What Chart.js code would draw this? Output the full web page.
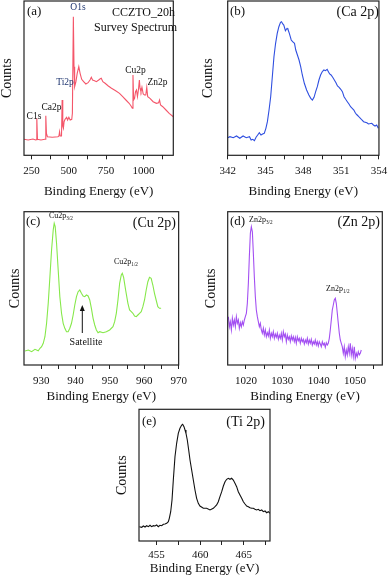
<!DOCTYPE html>
<html>
<head>
<meta charset="utf-8">
<script src="https://cdn.jsdelivr.net/npm/chart.js"></script>
<style>
  html, body { margin: 0; padding: 0; background: #fff; }
  body { position: relative; width: 392px; height: 576px; overflow: hidden; }
  canvas { position: absolute; }
</style>
</head>
<body>
<canvas id="survey" width="198" height="200" style="left:-6px;top:0px"></canvas>
<canvas id="ca" width="196" height="200" style="left:196px;top:0px"></canvas>
<canvas id="cu" width="192" height="206" style="left:0px;top:200px"></canvas>
<canvas id="zn" width="196" height="206" style="left:196px;top:200px"></canvas>
<canvas id="ti" width="185" height="177" style="left:100px;top:400px"></canvas>
<script>
// binding energy (eV) and counts (arbitrary units)
const surveyE = [200, 227.9, 260.1, 277.3, 281.6, 285.8, 290.2, 313.8, 339.5, 343.8,
  346.0, 350.3, 356.7, 388.9, 427.5, 434.0, 438.3, 442.6, 451.2, 455.5,
  459.7, 464.0, 468.4, 474.8, 485.5, 491.9, 500.5, 509.1, 519.9, 524.1,
  530.6, 534.9, 539.2, 547.8, 556.4, 567.0, 575.7, 586.4, 599.3, 614.3,
  629.3, 642.2, 650.8, 659.4, 672.3, 685.1, 700.2, 710.9, 717.3, 728.1,
  743.1, 764.6, 786.0, 813.9, 839.7, 861.2, 882.6, 904.1, 917.0, 925.6,
  929.9, 934.2, 940.6, 947.0, 953.5, 959.9, 966.3, 972.8, 977.1, 983.5,
  990.0, 998.6, 1007.1, 1015.7, 1022.2, 1028.6, 1043.6, 1065.0, 1086.6, 1101.6,
  1108.0, 1114.5, 1129.5, 1151.0, 1172.4, 1200];
const surveyC = [16.0, 15.3, 16.3, 15.3, 15.6, 37.0, 16.0, 15.3, 16.0, 16.0,
  39.6, 22.0, 18.6, 18.0, 18.6, 19.3, 23.6, 19.3, 19.3, 55.3,
  29.3, 27.0, 33.6, 36.0, 38.0, 35.3, 38.0, 35.3, 36.0, 42.0,
  138.6, 88.6, 68.6, 73.6, 82.0, 88.6, 82.0, 76.0, 73.6, 71.3,
  72.6, 75.3, 78.0, 75.3, 74.6, 73.6, 75.3, 76.6, 77.0, 73.6,
  72.0, 69.3, 67.0, 64.6, 62.0, 58.6, 55.3, 52.0, 49.3, 47.0,
  80.3, 55.3, 57.0, 63.6, 65.3, 58.6, 65.3, 75.3, 67.0, 63.6,
  68.0, 61.3, 60.3, 60.3, 68.0, 58.6, 57.0, 53.6, 52.0, 52.6,
  55.3, 50.3, 48.6, 45.3, 41.9, 38.6];

const caE = [342.00, 342.18, 342.44, 342.70, 342.96, 343.22, 343.47, 343.73, 343.86, 343.99,
  344.12, 344.25, 344.38, 344.51, 344.64, 344.77, 344.90, 345.03, 345.15, 345.28,
  345.41, 345.54, 345.67, 345.80, 345.93, 346.06, 346.19, 346.27, 346.37, 346.45,
  346.58, 346.71, 346.78, 346.89, 347.04, 347.15, 347.30, 347.40, 347.53, 347.66,
  347.79, 347.92, 348.08, 348.26, 348.44, 348.59, 348.72, 348.85, 348.98, 349.11,
  349.24, 349.37, 349.50, 349.63, 349.76, 349.89, 349.99, 350.09, 350.20, 350.33,
  350.46, 350.59, 350.71, 350.84, 350.97, 351.10, 351.23, 351.36, 351.49, 351.62,
  351.75, 351.88, 352.01, 352.14, 352.27, 352.40, 352.53, 352.65, 352.78, 353.04,
  353.17, 353.43, 353.56, 353.69, 353.82, 353.95];
const caC = [17.6, 18.6, 17.6, 19.3, 17.0, 19.3, 17.6, 18.6, 15.3, 16.0,
  14.6, 18.0, 20.3, 22.6, 20.3, 21.3, 22.0, 27.0, 33.6, 45.3,
  58.6, 78.6, 98.6, 112.0, 122.0, 128.6, 133.0, 133.6, 131.3, 130.3,
  124.6, 127.0, 126.0, 122.0, 115.3, 113.6, 112.0, 105.3, 100.3, 95.3,
  88.6, 80.3, 72.0, 65.3, 60.3, 57.0, 55.3, 58.0, 63.6, 68.6,
  75.3, 80.3, 83.6, 85.3, 84.6, 86.0, 83.6, 81.3, 80.3, 78.0,
  75.3, 72.6, 69.3, 68.0, 66.0, 63.6, 58.6, 56.0, 53.6, 51.3,
  48.6, 47.0, 45.3, 42.0, 40.3, 38.6, 37.0, 35.3, 33.6, 32.6,
  31.3, 32.0, 30.3, 29.3, 30.3, 27.0];

const cuE = [925.29, 926.26, 927.22, 928.19, 929.15, 929.64, 930.12, 930.60, 931.09, 931.57,
  932.05, 932.54, 933.02, 933.50, 933.79, 934.08, 934.47, 934.95, 935.43, 935.92,
  936.40, 936.88, 937.37, 937.85, 938.33, 938.82, 939.30, 939.78, 940.27, 940.75,
  941.23, 941.71, 942.20, 942.68, 943.16, 943.65, 944.13, 944.61, 945.10, 945.58,
  946.06, 946.55, 947.03, 947.99, 948.96, 949.93, 950.89, 951.38, 951.86, 952.34,
  952.83, 953.31, 953.60, 953.99, 954.57, 955.24, 955.72, 956.21, 956.69, 957.17,
  957.66, 958.14, 958.62, 959.11, 959.59, 960.07, 960.56, 961.04, 961.52, 962.00,
  962.49, 962.97, 963.45, 963.94, 964.42, 964.90];
const cuC = [14.0, 15.0, 13.3, 15.7, 14.3, 16.7, 18.3, 21.7, 28.3, 41.7,
  61.7, 88.3, 115.0, 135.0, 141.7, 138.3, 121.7, 95.0, 68.3, 51.7,
  41.7, 36.7, 33.3, 33.3, 36.7, 41.7, 50.0, 60.0, 68.3, 73.3,
  75.0, 71.7, 69.0, 68.3, 70.0, 69.0, 65.0, 56.7, 46.7, 40.0,
  35.0, 32.3, 33.3, 32.3, 33.3, 35.0, 38.3, 43.3, 51.7, 65.0,
  81.7, 90.0, 91.7, 87.7, 75.0, 61.7, 55.0, 53.3, 51.7, 49.0,
  48.3, 50.0, 51.7, 53.3, 58.3, 65.0, 75.0, 83.3, 87.7, 86.7,
  80.0, 71.7, 65.0, 58.3, 56.7, 56.7];

const znE = [1015.18, 1015.46, 1015.73, 1016.01, 1016.28, 1016.56, 1016.83, 1017.10, 1017.38, 1017.65,
  1017.93, 1018.20, 1018.48, 1018.75, 1019.03, 1019.30, 1019.58, 1019.85, 1020.13, 1020.40,
  1020.68, 1020.95, 1021.23, 1021.50, 1021.78, 1022.05, 1022.32, 1022.60, 1022.87, 1023.15,
  1023.42, 1023.70, 1023.97, 1024.25, 1024.52, 1024.80, 1025.07, 1025.35, 1025.62, 1025.90,
  1026.17, 1026.45, 1026.72, 1027.00, 1027.27, 1027.54, 1027.82, 1028.09, 1028.37, 1028.64,
  1028.92, 1029.19, 1029.47, 1029.74, 1030.02, 1030.29, 1030.57, 1030.84, 1031.12, 1031.39,
  1031.67, 1031.94, 1032.21, 1032.49, 1032.76, 1033.04, 1033.31, 1033.59, 1033.86, 1034.14,
  1034.41, 1034.69, 1034.96, 1035.24, 1035.51, 1035.79, 1036.06, 1036.34, 1036.61, 1036.89,
  1037.16, 1037.43, 1037.71, 1037.98, 1038.26, 1038.53, 1038.81, 1039.08, 1039.36, 1039.63,
  1039.91, 1040.18, 1040.46, 1040.73, 1041.01, 1041.28, 1041.56, 1041.83, 1042.10, 1042.38,
  1042.65, 1042.93, 1043.20, 1043.48, 1043.75, 1044.03, 1044.30, 1044.58, 1044.85, 1045.13,
  1045.40, 1045.68, 1045.95, 1046.23, 1046.50, 1046.78, 1047.05, 1047.32, 1047.60, 1047.87,
  1048.15, 1048.42, 1048.70, 1048.97, 1049.25, 1049.52, 1049.80, 1050.07, 1050.35, 1050.62,
  1050.90, 1051.17, 1051.45, 1051.72];
const znC = [48.3, 38.3, 43.3, 35.0, 46.7, 40.0, 45.0, 38.3, 48.3, 41.7,
  45.0, 36.7, 42.3, 38.3, 43.3, 40.0, 45.0, 48.3, 51.7, 61.7,
  81.7, 108.3, 131.7, 138.3, 133.3, 111.7, 88.3, 68.3, 55.0, 48.3,
  43.3, 38.3, 41.7, 35.0, 31.7, 36.7, 30.0, 35.0, 28.3, 32.3,
  29.0, 35.0, 26.7, 31.7, 28.3, 33.3, 26.7, 31.0, 27.7, 31.7,
  25.7, 30.0, 26.7, 31.7, 25.0, 33.3, 28.3, 31.0, 23.3, 30.0,
  25.7, 28.3, 23.3, 29.0, 25.0, 28.3, 23.3, 27.7, 21.7, 28.3,
  24.3, 26.7, 21.7, 26.7, 23.3, 25.7, 21.0, 25.0, 22.3, 26.7,
  21.0, 25.0, 21.7, 25.7, 20.0, 23.3, 21.0, 25.0, 20.0, 23.3,
  19.0, 23.3, 21.0, 18.3, 23.3, 20.0, 21.7, 17.7, 22.3, 20.0,
  21.7, 26.7, 35.0, 45.0, 55.0, 60.0, 65.0, 66.7, 61.7, 51.7,
  41.7, 31.7, 25.0, 21.7, 18.3, 11.7, 18.3, 8.3, 15.0, 10.0,
  18.3, 11.7, 21.7, 10.0, 16.7, 8.3, 18.3, 6.7, 11.7, 8.3,
  13.3, 10.0, 11.7, 15.0];

const tiE = [453.04, 453.31, 453.50, 453.69, 453.88, 454.07, 454.26, 454.45, 454.64, 454.83,
  455.02, 455.21, 455.40, 455.60, 455.79, 455.98, 456.17, 456.36, 456.47, 456.63,
  456.78, 456.93, 457.12, 457.31, 457.50, 457.69, 457.89, 458.00, 458.15, 458.27,
  458.38, 458.53, 458.69, 458.84, 459.03, 459.22, 459.41, 459.60, 459.79, 459.98,
  460.37, 460.75, 461.13, 461.51, 461.70, 461.89, 462.08, 462.27, 462.47, 462.66,
  462.85, 463.04, 463.23, 463.42, 463.61, 463.80, 463.99, 464.18, 464.37, 464.56,
  464.76, 464.95, 465.14, 465.33, 465.52, 465.71, 465.90, 466.09, 466.28, 466.47,
  466.66, 466.85, 467.05, 467.24, 467.43, 467.62, 467.81, 468.00];
const tiC = [14.3, 13.7, 15.0, 14.0, 15.3, 14.3, 15.7, 14.3, 15.3, 15.0,
  16.0, 14.3, 15.7, 15.3, 16.7, 17.0, 17.7, 19.3, 22.7, 29.3,
  41.0, 61.0, 84.3, 97.7, 107.7, 112.7, 116.0, 116.7, 114.3, 111.0,
  107.7, 101.0, 91.0, 81.0, 71.0, 61.0, 51.0, 42.7, 37.7, 35.0,
  32.7, 32.7, 31.0, 32.7, 34.3, 36.0, 39.3, 44.3, 49.3, 55.0,
  59.3, 61.7, 62.7, 61.7, 62.7, 61.0, 57.7, 54.3, 49.3, 46.0,
  42.7, 39.3, 37.0, 35.0, 34.3, 33.3, 32.7, 32.7, 31.7, 31.0,
  31.7, 30.3, 31.0, 29.3, 30.0, 28.3, 29.3, 27.7];

// tick marks and the ones that carry a label
const surveyTicks = [250, 375, 500, 625, 750, 875, 1000, 1125];
const surveyLabels = [250, 500, 750, 1000];
const caTicks = [342, 343.5, 345, 346.5, 348, 349.5, 351, 352.5, 354];
const caLabels = [342, 345, 348, 351, 354];
const cuTicks = [930, 935, 940, 945, 950, 955, 960, 965, 970];
const cuLabels = [930, 940, 950, 960, 970];
const znTicks = [1020, 1025, 1030, 1035, 1040, 1045, 1050, 1055];
const znLabels = [1020, 1030, 1040, 1050];
const tiTicks = [455, 457.5, 460, 462.5, 465, 467.5];
const tiLabels = [455, 460, 465];

const SERIF = '"Liberation Serif", "Times New Roman", serif';

// page-position of each canvas, plot box inside it, and text drawn on top
const panels = {
  survey: { left: -6, top: 0, xMin: 200, xMax: 1200, yMax: 154.3, yW: 30, padTop: 1, padRight: 18.7, xH: 44.7,
    tickPad: 4.8, titlePad: 0.5, countsPad: 5.1, color: '#f4566a',
    notes: [
      { t: '(a)', x: 27, y: 12, s: 13, a: 'left' },
      { t: 'CCZTO_20h', x: 175, y: 13, s: 12, a: 'right' },
      { t: 'Survey Spectrum', x: 177, y: 28, s: 12, a: 'right' },
      { t: 'O1s', x: 78, y: 7, s: 9.5, a: 'center', c: '#1f3670' },
      { t: 'Ti2p', x: 65, y: 82, s: 9.5, a: 'center', c: '#1f3670' },
      { t: 'Ca2p', x: 51.5, y: 107, s: 9.5, a: 'center' },
      { t: 'C1s', x: 34, y: 116, s: 9.5, a: 'center' },
      { t: 'Cu2p', x: 135.5, y: 70, s: 9.5, a: 'center' },
      { t: 'Zn2p', x: 157.5, y: 82, s: 9.5, a: 'center' }
    ] },
  ca: { left: 196, top: 0, xMin: 342, xMax: 354, yMax: 154.3, yW: 31.7, padTop: 1, padRight: 9.7, xH: 44.7,
    tickPad: 4.8, titlePad: 0.5, countsPad: 4.3, color: '#2f4fe0',
    notes: [
      { t: '(b)', x: 230, y: 12, s: 13, a: 'left' },
      { t: '(Ca 2p)', x: 379, y: 12, s: 14, a: 'right' }
    ] },
  cu: { left: 0, top: 200, xMin: 925, xMax: 970, yMax: 153.3, yW: 24, padTop: 11.7, padRight: 12.7, xH: 41,
    tickPad: 5.1, titlePad: 1.2, countsPad: 7.3, color: '#86e84a',
    notes: [
      { t: '(c)', x: 26, y: 222, s: 13, a: 'left' },
      { t: 'Cu2p', sub: '3/2', x: 49, y: 216, s: 8, a: 'left' },
      { t: '(Cu 2p)', x: 176, y: 223, s: 14, a: 'right' },
      { t: 'Cu2p', sub: '1/2', x: 114, y: 262, s: 8, a: 'left' },
      { t: 'Satellite', x: 86, y: 342, s: 10, a: 'center' }
    ],
    arrow: { x: 82.3, y1: 333, y2: 305 } },
  zn: { left: 196, top: 200, xMin: 1015, xMax: 1057.5, yMax: 153.3, yW: 31.7, padTop: 11.7, padRight: 9.7, xH: 41,
    tickPad: 5.1, titlePad: 1.2, countsPad: 6.9, color: '#a34ff2',
    notes: [
      { t: '(d)', x: 230, y: 222, s: 13, a: 'left' },
      { t: 'Zn2p', sub: '3/2', x: 249, y: 220, s: 8, a: 'left' },
      { t: '(Zn 2p)', x: 380, y: 222, s: 14, a: 'right' },
      { t: 'Zn2p', sub: '1/2', x: 326, y: 289, s: 8, a: 'left' }
    ] },
  ti: { left: 100, top: 400, xMin: 453, xMax: 468, yMax: 131.7, yW: 39, padTop: 9.3, padRight: 15, xH: 36,
    tickPad: 3.4, titlePad: 0.2, countsPad: 13.6, color: '#111111',
    notes: [
      { t: '(e)', x: 142, y: 422, s: 13, a: 'left' },
      { t: '(Ti 2p)', x: 265, y: 422, s: 14, a: 'right' }
    ] }
};

// frame around each plot plus the peak labels
const framePlugin = {
  id: 'frameNotes',
  afterDraw(chart) {
    const p = panels[chart.canvas.id];
    const ctx = chart.ctx;
    const a = chart.chartArea;
    ctx.save();
    ctx.strokeStyle = '#222';
    ctx.lineWidth = 1.2;
    ctx.strokeRect(a.left, a.top, a.right - a.left, a.bottom - a.top);
    ctx.textBaseline = 'middle';
    p.notes.forEach(n => {
      const x = n.x - p.left, y = n.y - p.top;
      ctx.fillStyle = n.c || '#111';
      ctx.font = n.s + 'px ' + SERIF;
      if (n.sub) {
        ctx.textAlign = 'left';
        ctx.fillText(n.t, x, y);
        const w = ctx.measureText(n.t).width;
        ctx.font = (n.s * 0.65) + 'px ' + SERIF;
        ctx.fillText(n.sub, x + w, y + n.s * 0.35);
      } else {
        ctx.textAlign = n.a;
        ctx.fillText(n.t, x, y);
      }
    });
    if (p.arrow) {
      const x = p.arrow.x - p.left, y1 = p.arrow.y1 - p.top, y2 = p.arrow.y2 - p.top;
      ctx.strokeStyle = '#111';
      ctx.fillStyle = '#111';
      ctx.lineWidth = 1;
      ctx.beginPath();
      ctx.moveTo(x, y1);
      ctx.lineTo(x, y2 + 4);
      ctx.stroke();
      ctx.beginPath();
      ctx.moveTo(x, y2);
      ctx.lineTo(x - 2.5, y2 + 6);
      ctx.lineTo(x + 2.5, y2 + 6);
      ctx.closePath();
      ctx.fill();
    }
    ctx.restore();
  }
};

function drawPanel(id, xs, ys, ticks, labels) {
  const p = panels[id];
  const ctx = document.getElementById(id).getContext("2d");
  return new Chart(ctx, {
    type: "scatter",
    data: {
      datasets: [{
        data: xs.map((x, i) => ({ x: x, y: ys[i] })),
        showLine: true,
        borderColor: p.color,
        borderWidth: 1.1,
        pointRadius: 0,
        tension: 0
      }]
    },
    options: {
      responsive: false,
      animation: false,
      events: [],
      layout: { padding: { top: p.padTop, right: p.padRight, left: 0, bottom: 0 } },
      plugins: { legend: { display: false }, tooltip: { enabled: false } },
      scales: {
        x: {
          type: "linear",
          min: p.xMin,
          max: p.xMax,
          afterBuildTicks: s => { s.ticks = ticks.map(v => ({ value: v })); },
          afterFit: s => { s.height = p.xH; },
          border: { display: false },
          grid: { drawOnChartArea: false, drawTicks: true, tickLength: 4, color: "#222", lineWidth: 1 },
          ticks: {
            autoSkip: false,
            maxRotation: 0,
            padding: p.tickPad,
            color: "#111",
            font: { family: SERIF, size: 11 },
            callback: v => labels.includes(v) ? String(v) : ""
          },
          title: {
            display: true,
            text: "Binding Energy (eV)",
            color: "#111",
            font: { family: SERIF, size: 13 },
            padding: { top: 0, bottom: p.titlePad }
          }
        },
        y: {
          min: 0,
          max: p.yMax,
          afterFit: s => { s.width = p.yW; },
          border: { display: false },
          grid: { display: false },
          ticks: { display: false },
          title: {
            display: true,
            text: "Counts",
            color: "#111",
            font: { family: SERIF, size: 14 },
            padding: { top: p.countsPad, bottom: 0 }
          }
        }
      }
    },
    plugins: [framePlugin]
  });
}

drawPanel("survey", surveyE, surveyC, surveyTicks, surveyLabels);
drawPanel("ca", caE, caC, caTicks, caLabels);
drawPanel("cu", cuE, cuC, cuTicks, cuLabels);
drawPanel("zn", znE, znC, znTicks, znLabels);
drawPanel("ti", tiE, tiC, tiTicks, tiLabels);
</script>
</body>
</html>
